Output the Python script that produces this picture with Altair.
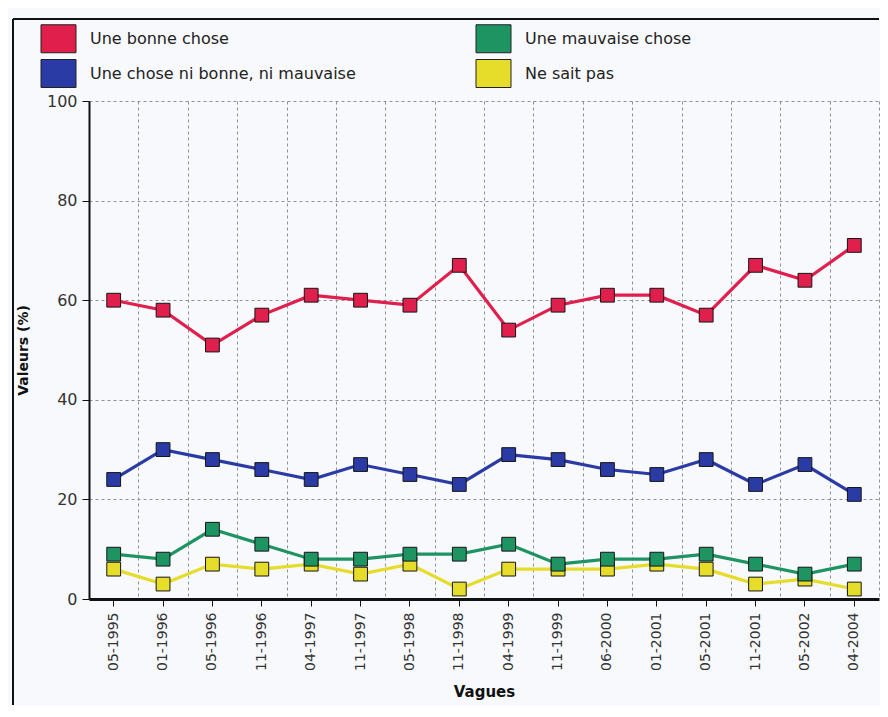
import altair as alt
import pandas as pd

vagues = ["05-1995", "01-1996", "05-1996", "11-1996", "04-1997", "11-1997",
          "05-1998", "11-1998", "04-1999", "11-1999", "06-2000", "01-2001",
          "05-2001", "11-2001", "05-2002", "04-2004"]
# legend is filled column by column: first column = first two entries
series = ["Une bonne chose", "Une chose ni bonne, ni mauvaise",
          "Une mauvaise chose", "Ne sait pas"]
bonne = [60, 58, 51, 57, 61, 60, 59, 67, 54, 59, 61, 61, 57, 67, 64, 71]
ni_bonne = [24, 30, 28, 26, 24, 27, 25, 23, 29, 28, 26, 25, 28, 23, 27, 21]
mauvaise = [9, 8, 14, 11, 8, 8, 9, 9, 11, 7, 8, 8, 9, 7, 5, 7]
ne_sait_pas = [6, 3, 7, 6, 7, 5, 7, 2, 6, 6, 6, 7, 6, 3, 4, 2]
colors = ["#e01f4c", "#2a3ba6", "#1f9463", "#e6dc2a"]

W, H = 790, 498
FONT = "DejaVu Sans"

# draw order: yellow, green, blue, red (red on top)
rows = []
for name, vals in [(series[3], ne_sait_pas), (series[2], mauvaise),
                   (series[1], ni_bonne), (series[0], bonne)]:
    for v, val in zip(vagues, vals):
        rows.append({"Vague": v, "Série": name, "Valeur": val})
df = pd.DataFrame(rows)

color_scale = alt.Scale(domain=series, range=colors)
x_scale = alt.Scale(type="band", domain=vagues, paddingInner=0, paddingOuter=0)
y_scale = alt.Scale(domain=[0, 100], nice=False)

y_enc = alt.Y("Valeur:Q", scale=y_scale,
              axis=alt.Axis(title="Valeurs (%)", values=[0, 20, 40, 60, 80, 100],
                            grid=True, gridDash=[3, 3], gridColor="#8c919b",
                            domainColor="#111", domainWidth=2,
                            tickColor="#111", tickSize=7, labelPadding=5,
                            labelFont=FONT, labelFontSize=16, labelColor="#333",
                            titleFont=FONT, titleFontSize=14, titleFontWeight="bold",
                            titleColor="#111", titlePadding=16))

lines = alt.Chart(df).mark_line(strokeWidth=3.2).encode(
    x=alt.X("Vague:N", scale=x_scale, bandPosition=0.5, sort=vagues,
            axis=alt.Axis(orient="bottom", title="Vagues", grid=False,
                          labelAngle=270, labelAlign="right", labelBaseline="middle",
                          labelFont=FONT, labelFontSize=14, labelColor="#333",
                          labelPadding=6, tickColor="#111", tickSize=7,
                          domainColor="#111", domainWidth=3,
                          titleFont=FONT, titleFontSize=15, titleFontWeight="bold",
                          titleColor="#111", titlePadding=14)),
    y=y_enc,
    color=alt.Color("Série:N", scale=color_scale, legend=None),
    detail="Série:N",
)

points = alt.Chart(df).mark_point(shape="square", filled=True, size=190,
                                  stroke="#151515", strokeWidth=1, opacity=1).encode(
    x=alt.X("Vague:N", scale=x_scale, bandPosition=0.5, sort=vagues,
            axis=alt.Axis(orient="bottom", title=None, labels=False, ticks=False,
                          domain=False, grid=True, tickBand="extent",
                          gridDash=[3, 3], gridColor="#8c919b")),
    y=alt.Y("Valeur:Q", scale=y_scale),
    color=alt.Color("Série:N", scale=color_scale,
                    legend=alt.Legend(title=None, orient="none", legendX=-45, legendY=-77,
                                      columns=2, columnPadding=118, rowPadding=2,
                                      padding=0,
                                      symbolType="M-1.25,-1H1.25V1H-1.25Z",
                                      symbolSize=784, symbolStrokeColor="#222",
                                      symbolStrokeWidth=1, symbolOpacity=1,
                                      labelOffset=17, labelFont=FONT,
                                      labelFontSize=16, labelColor="#222",
                                      labelLimit=400)),
)

frame_df = pd.DataFrame({"k": [0]})
frame_top = alt.Chart(frame_df).mark_rule(color="#111", strokeWidth=2).encode(
    x=alt.value(-76), x2=alt.value(W), y=alt.value(-82))
frame_left = alt.Chart(frame_df).mark_rule(color="#111", strokeWidth=2).encode(
    x=alt.value(-76), y=alt.value(-82), y2=alt.value(H + 106))

chart = alt.layer(frame_top, frame_left, lines, points).resolve_axis(
    x="independent").resolve_legend(color="independent").properties(
    width=W, height=H, background="#f8f9fc",
    padding={"left": 4, "top": 10, "right": 0, "bottom": 0},
).configure_view(stroke=None)

chart.save("out.html", embed_options={"renderer": "svg", "actions": False})
